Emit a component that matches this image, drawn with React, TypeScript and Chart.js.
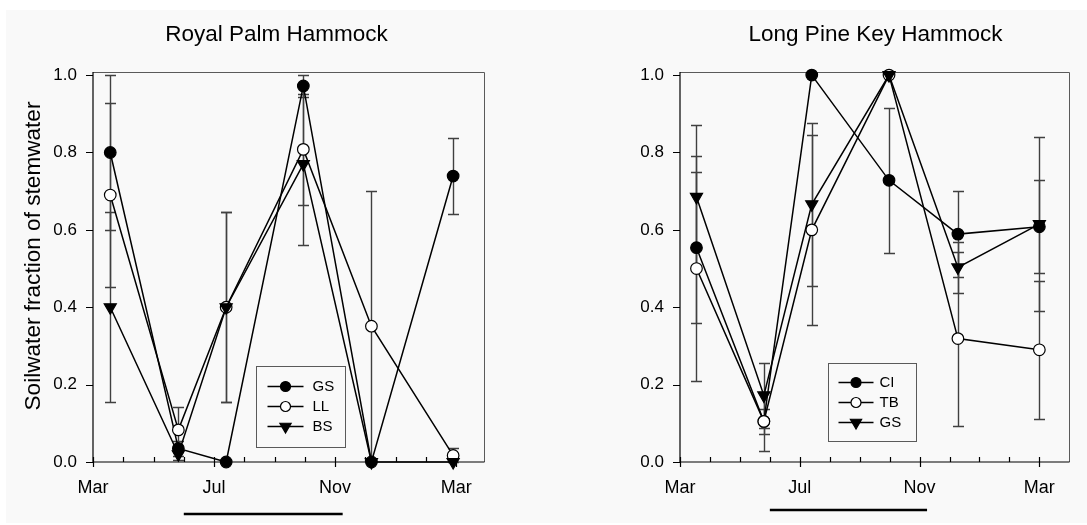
import React, { useEffect, useRef } from 'react';
import { Chart, registerables } from 'chart.js';
import { drawPoint } from 'chart.js/helpers';

Chart.register(...registerables);

const FONT = "'Liberation Sans', Arial, Helvetica, sans-serif";

// ---- shared axis data (x = months after 1 March) ----
const xTickMonths = [0, 4, 8, 12];
const xTickLabels = ['Mar', 'Jul', 'Nov', 'Mar'];
const xMinorMonths = [0, 1, 2, 3, 4, 5, 6, 7, 8, 9, 10, 11, 12];
const yTickValues = [0, 0.2, 0.4, 0.6, 0.8, 1.0];
const wetSeason = [3.0, 8.25];
const yAxisTitle = 'Soilwater fraction of stemwater';

// ---- Royal Palm Hammock ----
const rphTitle = 'Royal Palm Hammock';
const rphMonths = [0.57, 2.82, 4.4, 6.95, 9.2, 11.9];
const rphGS = [0.8, 0.035, 0.0, 0.972, 0.0, 0.739];
const rphGSErr = [0.2, 0.02, null, 0.028, null, 0.098];
const rphLL = [0.69, 0.083, 0.4, 0.808, 0.351, 0.017];
const rphLLErr = [0.238, 0.058, 0.246, 0.143, 0.35, 0.018];
const rphBS = [0.4, 0.02, 0.4, 0.77, 0.0, 0.0];
const rphBSErr = [0.245, 0.015, 0.246, 0.21, null, null];

// ---- Long Pine Key Hammock ----
const lpkTitle = 'Long Pine Key Hammock';
const lpkMonths = [0.55, 2.8, 4.4, 6.98, 9.28, 12.0];
const lpkCI = [0.554, 0.105, 1.0, 0.728, 0.589, 0.608];
const lpkCIErr = [0.195, 0.033, null, 0.188, 0.111, 0.12];
const lpkTB = [0.5, 0.105, 0.6, 1.0, 0.319, 0.29];
const lpkTBErr = [0.29, 0.077, 0.245, null, 0.225, 0.178];
const lpkGS = [0.685, 0.172, 0.666, 1.0, 0.503, 0.615];
const lpkGSErr = [0.187, 0.083, 0.21, null, 0.065, 0.224];

const BG = '#f9f9f9';

type MarkerKind = 'filled' | 'open' | 'tri';

function markerStyle(kind: MarkerKind) {
  return {
    kind,
    pointStyle: kind === 'tri' ? 'triangle' : 'circle',
    rotation: kind === 'tri' ? 180 : 0,
    radius: kind === 'tri' ? 7 : 5.8,
    fill: kind === 'open' ? '#ffffff' : '#000000',
  };
}

function makeDataset(label: string, months: number[], values: number[], errors: (number | null)[], kind: MarkerKind, order: number) {
  const m = markerStyle(kind);
  return {
    label,
    kind,
    errors,
    data: months.map((x, i) => ({ x, y: values[i] })),
    borderColor: '#000',
    borderWidth: 1.5,
    pointStyle: m.pointStyle,
    pointRotation: m.rotation,
    pointRadius: m.radius,
    pointHoverRadius: m.radius,
    pointBackgroundColor: m.fill,
    pointBorderColor: '#000',
    pointBorderWidth: 1.2,
    fill: false,
    tension: 0,
    clip: false,
    order,
  };
}

const sigmaPlugin = {
  id: 'sigma',
  beforeDatasetsDraw(chart: any) {
    const { ctx, chartArea } = chart;
    const { left, right, top, bottom } = chartArea;
    const xs = chart.scales.x;
    const ys = chart.scales.y;
    ctx.save();
    // frame
    ctx.strokeStyle = '#5a5a5a';
    ctx.lineWidth = 1;
    ctx.beginPath();
    ctx.moveTo(left, top + 0.5);
    ctx.lineTo(right + 0.5, top + 0.5);
    ctx.lineTo(right + 0.5, bottom);
    ctx.stroke();
    // axes
    ctx.strokeStyle = '#000';
    ctx.lineWidth = 1.2;
    ctx.beginPath();
    ctx.moveTo(left, top);
    ctx.lineTo(left, bottom);
    ctx.lineTo(right + 0.5, bottom);
    ctx.stroke();
    // y ticks (outside)
    ctx.beginPath();
    yTickValues.forEach((v) => {
      const py = Math.round(ys.getPixelForValue(v)) + 0.5;
      ctx.moveTo(left - 7, py);
      ctx.lineTo(left, py);
    });
    // x ticks
    xMinorMonths.forEach((m) => {
      const px = Math.round(xs.getPixelForValue(m)) + 0.5;
      const major = xTickMonths.includes(m);
      if (major) {
        ctx.moveTo(px, bottom - 5);
        ctx.lineTo(px, bottom + 5);
      } else {
        ctx.moveTo(px, bottom - 5);
        ctx.lineTo(px, bottom);
      }
    });
    ctx.stroke();

    // error bars
    ctx.strokeStyle = '#404040';
    ctx.lineWidth = 1.4;
    chart.data.datasets.forEach((ds: any, i: number) => {
      const meta = chart.getDatasetMeta(i);
      (ds.errors || []).forEach((e: number | null, j: number) => {
        if (e == null) return;
        const pt = meta.data[j];
        const v = ds.data[j].y;
        const x = Math.round(pt.x) + 0.5;
        const yTop = Math.round(ys.getPixelForValue(v + e)) + 0.5;
        const yBot = Math.round(ys.getPixelForValue(v - e)) + 0.5;
        ctx.beginPath();
        ctx.moveTo(x, yTop);
        ctx.lineTo(x, yBot);
        ctx.moveTo(x - 5.5, yTop);
        ctx.lineTo(x + 5.5, yTop);
        ctx.moveTo(x - 5.5, yBot);
        ctx.lineTo(x + 5.5, yBot);
        ctx.stroke();
      });
    });
    ctx.restore();
  },
  afterDraw(chart: any, _args: any, opts: any) {
    const { ctx, chartArea } = chart;
    const { left, right, top, bottom } = chartArea;
    const xs = chart.scales.x;
    ctx.save();
    // panel title
    ctx.fillStyle = '#000';
    ctx.font = `22.5px ${FONT}`;
    ctx.textAlign = 'center';
    ctx.textBaseline = 'middle';
    ctx.fillText(opts.title, (left + right) / 2 + opts.titleDx, 35);
    // legend box inside plot
    const lg = opts.legend;
    const bx = Math.round(left + lg.fx * (right - left)) + 0.5;
    const by = Math.round(top + lg.fy * (bottom - top)) + 0.5;
    ctx.fillStyle = BG;
    ctx.fillRect(bx, by, lg.w, lg.h);
    ctx.strokeStyle = '#5a5a5a';
    ctx.lineWidth = 1;
    ctx.strokeRect(bx, by, lg.w, lg.h);
    chart.data.datasets.forEach((ds: any, i: number) => {
      const yy = by + lg.first + i * lg.step;
      ctx.strokeStyle = '#000';
      ctx.lineWidth = 1.5;
      ctx.beginPath();
      ctx.moveTo(bx + lg.lineFrom, yy);
      ctx.lineTo(bx + lg.lineTo, yy);
      ctx.stroke();
      const m = markerStyle(ds.kind);
      ctx.fillStyle = m.fill;
      ctx.strokeStyle = '#000';
      ctx.lineWidth = 1.2;
      drawPoint(ctx, { pointStyle: m.pointStyle as any, rotation: m.rotation, radius: m.kind === 'tri' ? 6.5 : 5, borderWidth: 1.2 } as any, bx + (lg.lineFrom + lg.lineTo) / 2, yy);
      ctx.fillStyle = '#000';
      ctx.font = `15px ${FONT}`;
      ctx.textAlign = 'left';
      ctx.textBaseline = 'middle';
      ctx.fillText(ds.label, bx + lg.textX, yy + 0.5);
    });
    // wet-season bar below axis
    const x0 = xs.getPixelForValue(wetSeason[0]);
    const x1 = xs.getPixelForValue(wetSeason[1]);
    ctx.strokeStyle = '#000';
    ctx.lineWidth = 2.5;
    ctx.beginPath();
    ctx.moveTo(x0, bottom + opts.barOffset);
    ctx.lineTo(x1, bottom + opts.barOffset);
    ctx.stroke();
    // y axis title
    if (opts.yTitle) {
      ctx.translate(opts.yTitle.x, opts.yTitle.y);
      ctx.rotate(-Math.PI / 2);
      ctx.fillStyle = '#000';
      ctx.font = `22.6px ${FONT}`;
      ctx.textAlign = 'center';
      ctx.textBaseline = 'middle';
      ctx.fillText(yAxisTitle, 0, 0);
    }
    ctx.restore();
  },
};

function buildConfig(p: any) {
  return {
    type: 'line',
    data: { datasets: p.datasets },
    plugins: [sigmaPlugin],
    options: {
      responsive: false,
      animation: false,
      events: [],
      layout: { padding: { left: p.padL, right: p.padR, top: 72, bottom: 0 } },
      plugins: {
        legend: { display: false },
        tooltip: { enabled: false },
        title: { display: false },
        sigma: { title: p.title, titleDx: p.titleDx, legend: p.legend, barOffset: p.barOffset, yTitle: p.yTitle },
      },
      scales: {
        x: {
          type: 'linear',
          min: 0,
          max: p.xMax,
          afterFit: (s: any) => { s.height = 63; },
          afterBuildTicks: (s: any) => { s.ticks = xTickMonths.map((v) => ({ value: v })); },
          grid: { display: true, drawOnChartArea: false, drawTicks: false },
          border: { display: false },
          ticks: {
            autoSkip: false,
            maxRotation: 0,
            padding: 15,
            color: '#000',
            font: { family: FONT, size: 18 },
            callback: (_v: any, i: number) => xTickLabels[i],
          },
        },
        y: {
          type: 'linear',
          min: 0,
          max: 1.008,
          afterFit: (s: any) => { s.width = p.yWidth; },
          afterBuildTicks: (s: any) => { s.ticks = yTickValues.map((v) => ({ value: v })); },
          grid: { display: true, drawOnChartArea: false, drawTicks: false },
          border: { display: false },
          ticks: {
            padding: 16,
            color: '#000',
            font: { family: FONT, size: 17 },
            callback: (v: any) => Number(v).toFixed(1),
          },
        },
      },
    },
  };
}

function Panel({ left, width, params }: { left: number; width: number; params: any }) {
  const ref = useRef<HTMLCanvasElement>(null);
  useEffect(() => {
    const chart = new Chart(ref.current as HTMLCanvasElement, buildConfig(params) as any);
    return () => chart.destroy();
  }, []);
  return (
    <div style={{ position: 'absolute', left, top: 0, width, height: 525 }}>
      <canvas ref={ref} width={width} height={525} style={{ display: 'block' }} />
    </div>
  );
}

export default function App() {
  const rph = {
    title: rphTitle,
    titleDx: -12,
    padL: 8,
    padR: 56,
    yWidth: 85,
    xMax: 12.92,
    barOffset: 52,
    yTitle: { x: 34, y: 256 },
    legend: { fx: 0.417, fy: 0.754, w: 89, h: 81, first: 20, step: 20, lineFrom: 11, lineTo: 47, textX: 56 },
    datasets: [
      makeDataset('GS', rphMonths, rphGS, rphGSErr, 'filled', 3),
      makeDataset('LL', rphMonths, rphLL, rphLLErr, 'open', 2),
      makeDataset('BS', rphMonths, rphBS, rphBSErr, 'tri', 1),
    ],
  };
  const lpk = {
    title: lpkTitle,
    titleDx: 1,
    padL: 40,
    padR: 18,
    yWidth: 100,
    xMax: 12.99,
    barOffset: 48,
    yTitle: null,
    legend: { fx: 0.38, fy: 0.746, w: 88, h: 78, first: 19, step: 20, lineFrom: 10, lineTo: 45, textX: 51 },
    datasets: [
      makeDataset('CI', lpkMonths, lpkCI, lpkCIErr, 'filled', 3),
      makeDataset('TB', lpkMonths, lpkTB, lpkTBErr, 'open', 2),
      makeDataset('GS', lpkMonths, lpkGS, lpkGSErr, 'tri', 1),
    ],
  };
  return (
    <div style={{ position: 'absolute', left: 0, top: 0, width: 1087, height: 525, background: '#fff', overflow: 'hidden' }}>
      <div style={{ position: 'absolute', left: 6, top: 10, width: 1081, height: 513, background: BG }} />
      <Panel left={0} width={540} params={rph} />
      <Panel left={540} width={547} params={lpk} />
    </div>
  );
}
